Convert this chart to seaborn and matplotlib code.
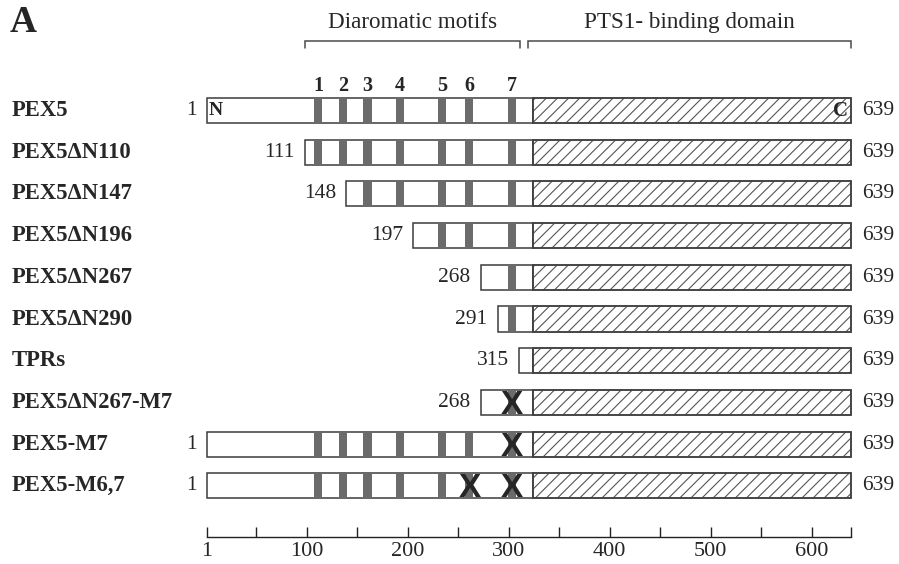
import matplotlib
matplotlib.use("Agg")
import matplotlib.pyplot as plt
import matplotlib.transforms as mtransforms
import numpy as np
import seaborn as sns

# constructs, top to bottom
rows = ['PEX5', 'PEX5\u0394N110', 'PEX5\u0394N147', 'PEX5\u0394N196', 'PEX5\u0394N267',
        'PEX5\u0394N290', 'TPRs', 'PEX5\u0394N267-M7', 'PEX5-M7', 'PEX5-M6,7']
start_labels = ['1', '111', '148', '197', '268', '291', '315', '268', '1', '1']
end_labels = ['639'] * 10
# where each construct starts / ends on the drawn residue scale
box_start = [1, 98, 139, 205, 272, 289, 310, 272, 1, 1]
box_end = [639] * 10
tpr_start = 324

# diaromatic motifs (drawn position on the scale)
motif_ids = [1, 2, 3, 4, 5, 6, 7]
motif_pos = [111, 136, 160, 192, 234, 261, 303]
motif_w = 8
mutated = {7: [7], 8: [7], 9: [6, 7]}

domain_names = ['Diaromatic motifs', 'PTS1- binding domain']
domain_start = [98, 319]
domain_end = [311, 639]

major_ticks = [1, 100, 200, 300, 400, 500, 600]
minor_ticks = [50, 150, 250, 350, 450, 550, 639]

sns.set_theme(style='white')
plt.rcParams['font.family'] = ['Liberation Serif', 'DejaVu Serif']
plt.rcParams['hatch.linewidth'] = 0.8

fig = plt.figure(figsize=(8.99, 5.64), dpi=100)
ax = fig.add_axes([0, 0, 1, 1])
ax.set_xlim(-204.1, 686.6)
ax.set_ylim(10.875, -2.65)

edge = '#3c3c3c'
h = 0.6
y = np.arange(len(rows))
starts = np.array(box_start)
ends = np.array(box_end)

# white part
ax.barh(y, tpr_start - starts, left=starts, height=h, color='white', edgecolor=edge, linewidth=1.1, zorder=2)
# TPR / PTS1-binding part, hatched
ax.barh(y, ends - tpr_start, left=tpr_start, height=h, color='white', edgecolor='#555555',
        hatch='///', linewidth=1.1, zorder=2)
ax.barh(y, ends - tpr_start, left=tpr_start, height=h, color='none', edgecolor=edge, linewidth=1.1, zorder=3)

for i in range(len(rows)):
    pos = [p for p in motif_pos if p - motif_w / 2 > box_start[i]]
    ax.barh([i] * len(pos), [motif_w] * len(pos), left=np.array(pos) - motif_w / 2, height=h - 0.02,
            color='#6b6b6b', linewidth=0, zorder=4)
    for m in mutated.get(i, []):
        ax.text(motif_pos[m - 1], i + 0.07, 'X', ha='center', va='center', fontsize=24,
                fontweight='bold', family='Liberation Sans', zorder=5)
    ax.text(box_start[i] - 10, i, start_labels[i], ha='right', va='center', fontsize=15.5)
    ax.text(box_end[i] + 11, i, end_labels[i], ha='left', va='center', fontsize=15.5)

# row names
tr = mtransforms.blended_transform_factory(ax.transAxes, ax.transData)
for i, name in enumerate(rows):
    ax.text(12 / 899, i, name, transform=tr, ha='left', va='center', fontsize=16.3, fontweight='bold')

# N / C termini and motif numbers
ax.text(3, 0, 'N', ha='left', va='center', fontsize=14, fontweight='bold', zorder=6)
ax.text(636, 0, 'C', ha='right', va='center', fontsize=15, fontweight='bold', zorder=6)
for mid, p in zip(motif_ids, motif_pos):
    ax.text(p, -0.58, str(mid), ha='center', va='center', fontsize=14.5, fontweight='bold')

# domain brackets
for name, s, e in zip(domain_names, domain_start, domain_end):
    ax.plot([s, s, e, e], [-1.5, -1.667, -1.667, -1.5], color='#4a4a4a', lw=1.1, solid_joinstyle='miter')
    ax.text((s + e) / 2, -2.1, name, ha='center', va='center', fontsize=16.7)

fig.text(10 / 899, 1 - 23 / 564, 'A', ha='left', va='center', fontsize=27, fontweight='bold')

# residue axis
sns.despine(ax=ax, left=True, top=True, right=True, bottom=False)
ax.spines['bottom'].set_position(('data', 10.22))
ax.spines['bottom'].set_bounds(1, 639)
ax.spines['bottom'].set_color('#222222')
ax.spines['bottom'].set_linewidth(1.0)
ax.set_xticks(major_ticks)
ax.set_xticks(minor_ticks, minor=True)
ax.set_xticklabels([str(t) for t in major_ticks])
ax.tick_params(axis='x', which='both', direction='in', length=7, width=1.0, color='#222222',
               labelsize=16, pad=4, bottom=True)
ax.set_yticks([])
ax.grid(False)

fig.savefig('out.png', dpi=100)
